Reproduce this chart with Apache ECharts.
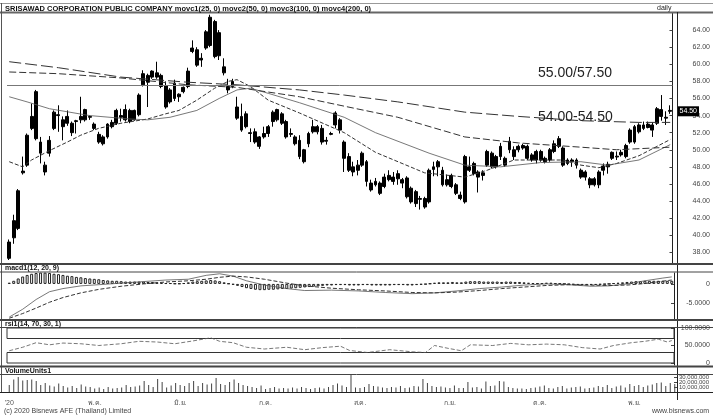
<!DOCTYPE html>
<html><head><meta charset="utf-8">
<script src="https://cdn.jsdelivr.net/npm/echarts@6/dist/echarts.min.js"></script>
<style>html,body{margin:0;padding:0;background:#fff}#c{width:713px;height:417px}</style>
</head><body><div id="c"></div>
<script>
// ---------- data ----------
const title = 'SRISAWAD CORPORATION PUBLIC COMPANY movc1(25, 0) movc2(50, 0) movc3(100, 0) movc4(200, 0)';
// [open, close, low, high]
const ohlc = [
[37.3,39.2,37.1,39.5],[39.7,41.7,39.0,42.4],[40.8,45.2,40.6,45.4],[47.3,47.5,47.1,49.2],[48.2,51.7,48.0,51.9],
[52.5,53.9,52.3,55.4],[51.3,56.8,51.1,57.0],[50.9,49.6,48.4,51.5],[48.2,47.4,47.0,48.6],[49.6,51.1,49.2,51.6],
[52.5,54.4,52.3,54.6],[54.0,54.1,52.1,55.2],[53.5,52.7,51.1,53.9],[53.1,53.9,52.8,54.6],[53.1,52.0,51.6,53.3],
[53.3,53.4,51.9,53.5],[53.5,53.9,53.1,56.2],[53.5,54.7,53.3,54.8],[53.9,53.8,53.5,54.0],[53.0,52.5,52.3,53.2],
[51.8,50.9,50.7,52.1],[51.5,50.7,50.5,51.7],[51.5,53.0,51.3,53.1],[52.7,53.2,52.5,53.5],[53.1,54.6,52.9,54.8],
[54.0,53.8,53.3,54.8],[53.5,54.7,53.3,55.3],[54.6,53.3,53.1,54.8],[53.5,54.6,53.4,54.7],[54.1,56.4,53.9,56.6],
[57.6,58.9,57.4,59.3],[58.7,57.9,55.0,58.9],[58.5,59.2,58.3,59.3],[59.0,58.5,58.3,60.3],[58.7,57.4,57.2,58.9],
[57.5,55.0,54.8,58.0],[55.6,57.0,55.4,57.2],[57.8,56.0,55.7,58.2],[56.2,56.5,55.6,56.6],[56.8,57.3,56.6,57.4],
[57.4,59.2,57.2,59.6],[61.5,61.9,61.3,62.8],[61.7,59.9,59.7,62.0],[60.5,60.7,59.7,61.3],[61.9,63.8,61.7,64.0],
[62.2,65.5,62.0,65.8],[65.0,60.9,60.7,65.2],[63.7,61.0,60.5,64.0],[59.7,59.0,58.7,60.7],[57.4,57.0,56.6,58.3],
[57.4,58.0,57.2,58.3],[55.0,53.7,53.5,56.2],[53.9,52.3,52.1,55.4],[52.7,54.2,52.5,54.5],[51.9,52.0,50.9,52.5],
[52.1,50.9,50.7,52.5],[51.5,50.4,50.1,51.6],[51.5,51.9,51.3,52.7],[51.9,52.7,51.5,52.9],[53.3,54.4,52.7,54.6],
[53.5,54.7,53.3,54.8],[54.2,53.1,52.9,54.4],[53.3,51.5,51.3,53.5],[51.9,51.8,51.5,52.5],[51.5,50.7,50.5,51.7],
[51.1,49.2,48.9,51.7],[50.0,48.6,48.4,50.1],[50.7,51.9,50.3,52.1],[52.1,52.7,51.9,53.5],[52.7,52.1,51.8,52.9],
[52.5,50.9,50.6,52.9],[51.0,51.1,50.6,51.5],[51.8,51.9,51.7,52.1],[52.9,54.3,52.5,54.5],[53.5,52.3,51.9,53.7],
[50.9,49.0,47.4,51.1],[49.2,47.6,47.4,49.6],[48.0,47.4,46.9,48.6],[47.6,48.2,47.0,48.8],[48.2,49.6,48.0,49.8],
[48.6,46.3,45.7,48.8],[46.1,45.3,45.1,46.5],[45.9,46.3,45.7,46.7],[46.1,44.9,44.7,46.3],[45.7,46.8,45.5,47.2],
[46.5,47.0,46.3,47.6],[46.8,46.3,45.9,47.4],[46.6,47.2,45.9,47.6],[46.5,46.1,45.5,46.7],[46.7,44.5,44.3,46.9],
[45.5,43.9,43.7,45.7],[45.1,43.7,43.3,45.3],[44.2,44.3,43.0,44.6],[43.3,44.3,43.1,44.5],[43.9,47.6,43.7,47.8],
[47.7,48.0,46.9,48.6],[48.0,48.6,46.9,48.8],[47.6,45.9,45.7,48.0],[46.5,45.9,45.7,47.1],[45.7,47.0,45.5,47.2],
[45.9,44.9,44.7,46.1],[44.7,44.3,44.1,45.1],[43.9,49.2,43.7,49.4],[47.6,48.0,47.4,49.2],[48.4,47.2,47.0,48.6],
[47.4,46.8,45.0,47.6],[47.0,47.3,46.4,47.6],[48.2,49.8,48.0,50.0],[49.6,48.0,47.8,49.8],[48.0,49.2,47.8,49.4],
[49.2,50.4,48.8,50.8],[49.0,48.2,48.0,49.2],[50.0,51.0,49.6,51.5],[50.0,49.2,48.8,50.4],[50.0,50.4,49.7,50.6],
[50.2,50.5,50.0,50.7],[50.4,49.0,48.8,50.6],[49.4,48.8,48.6,49.6],[48.8,49.8,48.4,50.0],[49.8,48.8,48.6,50.0],
[49.0,48.6,48.4,49.2],[48.8,50.0,48.6,50.2],[49.8,50.7,49.6,51.1],[50.4,51.3,50.2,51.6],[50.2,48.2,48.0,50.4],
[48.4,48.8,48.2,49.0],[48.6,48.8,48.0,49.0],[48.8,48.2,47.8,49.0],[47.6,46.8,46.6,47.8],[47.4,46.8,46.4,47.6],
[46.6,45.9,45.5,46.8],[46.6,45.9,45.7,46.8],[45.9,47.4,45.5,47.6],[47.6,48.1,47.0,48.4],[48.0,48.3,47.2,48.6],
[49.0,49.7,48.8,49.8],[49.15,49.25,48.8,49.8],[49.4,49.7,49.2,50.0],[49.2,50.5,49.0,50.7],[50.9,52.3,50.7,52.5],
[50.9,52.7,50.7,52.9],[52.1,52.9,51.9,53.1],[52.5,52.9,52.3,53.3],[52.6,53.0,52.5,53.3],[52.9,52.3,51.5,53.2],
[53.1,54.8,52.9,55.0],[54.7,53.9,53.4,56.4],[53.7,53.8,52.9,54.5],[54.6,54.5,54.2,55.2]
];
// moving averages read at sample candles: [candle index, value]
const movc1 = [[0,48.6],[3,48.0],[5,48.8],[9,49.9],[13,50.9],[16,51.7],[20,52.5],[25,53.1],[31,53.6],[35,54.2],[38,54.6],[42,55.8],[46,57.2],[49,58.0],[51,58.2],[54,57.4],[58,55.8],[65,54.3],[75,52.0],[82,49.7],[93,47.3],[102,46.8],[107,47.6],[113,48.8],[124,48.8],[128,48.2],[132,47.9],[136,48.4],[141,49.3],[148,51.2]];
const movc2 = [[0,56.2],[4,55.6],[9,54.8],[18,54.0],[27,53.6],[31,53.5],[36,53.8],[42,54.6],[47,56.0],[51,57.0],[54,57.2],[58,56.6],[65,55.5],[75,53.8],[82,52.0],[94,49.6],[102,48.2],[110,48.0],[119,48.5],[128,48.6],[134,48.2],[141,48.8],[148,50.6]];
const movc3 = [[0,59.1],[11,58.9],[25,58.4],[40,57.6],[51,57.3],[65,56.2],[75,55.1],[87,53.8],[102,51.5],[114,50.8],[128,50.3],[136,50.0],[148,50.3]];
const movc4 = [[0,60.3],[11,59.6],[25,58.5],[40,57.9],[51,57.6],[65,57.0],[75,56.4],[87,55.6],[102,54.4],[114,53.9],[128,53.4],[141,53.2],[148,53.2]];
const resistLevel = 57.5;
const noteUpper = '55.00/57.50';
const noteLower = '54.00-54.50';
const lastPrice = 54.50;

const macdHist = [
0.3,0.8,1.4,1.9,2.3,2.6,2.8,2.9,2.9,2.8,
2.6,2.5,2.3,2.1,2.0,1.8,1.7,1.5,1.4,1.3,
1.2,1.0,0.9,0.8,0.8,0.7,0.6,0.6,0.6,0.6,
0.6,0.5,0.5,0.4,0.3,0.2,0.2,0.1,0.1,0.2,
0.4,0.6,0.7,0.8,0.9,1.0,0.9,0.7,0.4,0.1,
-0.2,-0.5,-0.8,-1.1,-1.3,-1.5,-1.6,-1.6,-1.5,-1.5,
-1.4,-1.3,-1.3,-1.2,-1.1,-1.0,-0.9,-0.8,-0.7,-0.6,
-0.5,-0.4,-0.4,-0.3,-0.3,-0.3,-0.4,-0.4,-0.4,-0.3,
-0.3,-0.4,-0.4,-0.4,-0.4,-0.4,-0.3,-0.3,-0.3,-0.4,
-0.4,-0.3,-0.2,-0.1,0.1,0.3,0.4,0.4,0.4,0.5,
0.4,0.4,0.6,0.7,0.7,0.7,0.6,0.6,0.6,0.6,
0.5,0.6,0.6,0.5,0.5,0.4,0.3,0.2,0.2,0.2,
0.3,0.3,0.2,0.1,0.0,-0.1,-0.2,-0.3,-0.3,-0.3,
-0.3,-0.3,-0.2,-0.1,0.0,0.2,0.3,0.4,0.5,0.6,
0.7,0.7,0.8,0.8,0.8,0.8,0.8,0.8,0.8];
const macdLine = [[0,-8.5],[3,-6.5],[6,-4.0],[9,-2.0],[12,-1.2],[16,-0.5],[20,-0.2],[25,0.2],[30,0.6],[35,1.0],[40,1.2],[44,2.2],[47,2.6],[50,2.0],[53,0.8],[57,-0.3],[62,-1.2],[66,-1.7],[72,-1.6],[78,-1.8],[84,-2.2],[90,-2.5],[95,-2.3],[100,-1.8],[105,-1.2],[110,-0.8],[115,-0.3],[120,0.0],[125,-0.2],[130,-0.6],[134,-0.5],[138,0.0],[142,0.8],[146,1.5],[148,1.8]];
const signalLine = [[0,-8.8],[3,-7.6],[6,-6.2],[9,-4.7],[12,-3.5],[16,-2.3],[20,-1.4],[25,-0.6],[30,0.0],[35,0.5],[40,0.8],[44,1.2],[47,1.7],[50,2.0],[53,1.8],[57,1.2],[62,0.2],[66,-0.5],[72,-1.1],[78,-1.5],[84,-1.8],[90,-2.2],[95,-2.3],[100,-2.1],[105,-1.7],[110,-1.2],[115,-0.8],[120,-0.4],[125,-0.2],[130,-0.3],[134,-0.4],[138,-0.3],[142,0.1],[146,0.7],[148,1.0]];
const rsi = [[0,35],[3,45],[6,58],[9,52],[12,57],[16,55],[20,50],[25,55],[29,62],[33,60],[37,55],[41,63],[45,72],[47,62],[50,58],[53,45],[57,40],[62,45],[66,38],[70,44],[74,48],[76,36],[80,30],[85,38],[90,32],[93,30],[95,50],[98,42],[101,35],[103,52],[108,50],[112,56],[116,52],[120,54],[124,52],[128,44],[132,40],[135,50],[139,58],[142,62],[145,68],[147,60],[148,64]];
// volume in millions of shares
const volume = [
14,25,30,23,24,25,22,14,18,13, 11,17,12,9,12,8,15,11,10,7, 9,6,10,7,8,9,14,10,11,13,
22,14,10,26,20,9,13,18,14,12, 18,22,12,18,15,17,28,16,14,20, 25,18,14,12,10,8,13,6,8,10,
7,8,7,9,7,10,8,6,8,9, 7,10,14,17,13,10,34,9,8,10, 16,12,11,9,8,10,9,12,8,9,
12,11,26,18,12,10,11,9,8,13, 8,8,20,9,10,7,21,12,13,22, 21,10,8,7,7,6,8,9,11,13,
8,7,10,12,7,9,10,11,7,8, 9,12,10,14,8,11,13,9,16,12, 14,10,13,15,18,19,12,18,16];

const priceTicks = [38,40,42,44,46,48,50,52,54,56,58,60,62,64];
const macdTicks = [0,-5];
const rsiTicks = [0,50,100];
const rsiBands = [[70,100],[0,30]];
const volTicks = [10,20,30];
const monthIdx = [0,19,38,57,78,98,118,139];
const monthText = ["'20",'พ.ค.','มิ.ย.','ก.ค.','ส.ค.','ก.ย.','ต.ค.','พ.ย.'];
const headers = ['macd1(12, 20, 9)','rsi1(14, 70, 30, 1)','VolumeUnits1'];

// ---------- chart ----------
const cats = ohlc.map((d,i)=>i);
const FONT = 'Liberation Sans, Arial, sans-serif';
const L = 7, R = 36;
const grids = [
  {left:L,right:R,top:13,height:250},
  {left:L,right:R,top:273,height:46},
  {left:L,right:R,top:328,height:37},
  {left:L,right:R,top:375,height:17}
];
function xa(i, showLabels){
  return {type:'category',gridIndex:i,data:cats,boundaryGap:true,
    axisLine:{show:showLabels,lineStyle:{color:'#222'}},axisTick:{show:false},splitLine:{show:false},
    axisLabel:showLabels?{show:true,interval:0,margin:8,fontSize:7,color:'#555',fontFamily:FONT,
      formatter:(v,idx)=>{const k=monthIdx.indexOf(idx);return k>=0?monthText[k]:'';}}:{show:false}};
}
function ya(i,min,max,ticks,lab){
  return {type:'value',gridIndex:i,position:'right',min:min,max:max,scale:true,
    axisLine:{show:true,lineStyle:{color:'#222'}},
    axisTick:{show:true,inside:true,length:3,customValues:ticks,lineStyle:{color:'#444'}},
    splitLine:{show:false},
    axisLabel:Object.assign({show:true,customValues:ticks,fontSize:7,color:'#444',fontFamily:FONT},lab)};
}
const option = {
  animation:false,
  backgroundColor:'#fff',
  grid:grids,
  xAxis:[xa(0,false),xa(1,false),xa(2,false),xa(3,true)],
  yAxis:[
    ya(0,36.75,66.0,priceTicks,{margin:20,align:'left',formatter:v=>v.toFixed(2)}),
    ya(1,-9,2.8,macdTicks,{margin:36,align:'right',formatter:v=>v===0?'0':v.toFixed(4)}),
    ya(2,-5.7,100,rsiTicks,{margin:36,align:'right',formatter:v=>v===0?'0':v.toFixed(4)}),
    ya(3,0,34,volTicks,{show:false})
  ],
  series:[
    {type:'candlestick',xAxisIndex:0,yAxisIndex:0,data:ohlc.map(d=>[d[0],d[1],d[2],d[3]]),barWidth:3.4,
      itemStyle:{color:'#000',color0:'#000',borderColor:'#000',borderColor0:'#000',borderWidth:1},
      markLine:{silent:true,symbol:'none',label:{show:false},lineStyle:{color:'#777',width:1,type:'solid'},
        data:[{yAxis:resistLevel}]}},
    {type:'line',xAxisIndex:0,yAxisIndex:0,data:movc1,showSymbol:false,lineStyle:{color:'#333',width:1,type:[4,2]}},
    {type:'line',xAxisIndex:0,yAxisIndex:0,data:movc2,showSymbol:false,lineStyle:{color:'#555',width:0.8,type:'solid'}},
    {type:'line',xAxisIndex:0,yAxisIndex:0,data:movc3,showSymbol:false,lineStyle:{color:'#333',width:1,type:[7,3]}},
    {type:'line',xAxisIndex:0,yAxisIndex:0,data:movc4,showSymbol:false,lineStyle:{color:'#333',width:1,type:[12,4]}},
    {type:'bar',xAxisIndex:1,yAxisIndex:1,data:macdHist,barWidth:3,
      itemStyle:{color:'#fff',borderColor:'#222',borderWidth:1}},
    {type:'line',xAxisIndex:1,yAxisIndex:1,data:macdLine,showSymbol:false,lineStyle:{color:'#555',width:0.8}},
    {type:'line',xAxisIndex:1,yAxisIndex:1,data:signalLine,showSymbol:false,lineStyle:{color:'#333',width:1,type:[4,2]}},
    {type:'line',xAxisIndex:2,yAxisIndex:2,data:rsi,showSymbol:false,lineStyle:{color:'#555',width:0.8,type:[4,2]},
      markArea:{silent:true,itemStyle:{color:'rgba(0,0,0,0)',borderColor:'#333',borderWidth:1},
        data:rsiBands.map(b=>[{yAxis:b[0]},{yAxis:b[1]}])}},
    {type:'bar',xAxisIndex:3,yAxisIndex:3,data:volume,barWidth:1,itemStyle:{color:'#444'}}
  ]
};
const chart = echarts.init(document.getElementById('c'),null,{renderer:'canvas'});
chart.setOption(option);

function hline(y,x1,x2,w,c){return {type:'line',silent:true,z:100,shape:{x1:x1,y1:y,x2:x2,y2:y},style:{stroke:c,lineWidth:w}};}
function vline(x,y1,y2,w,c){return {type:'line',silent:true,z:100,shape:{x1:x,y1:y1,x2:x,y2:y2},style:{stroke:c,lineWidth:w}};}
function txt(s,x,y,size,opt){return {type:'text',silent:true,z:110,x:x,y:y,style:Object.assign({text:s,fontSize:size,fontFamily:FONT,fill:'#111'},opt||{})};}
const py = chart.convertToPixel({yAxisIndex:0},lastPrice);
const axX = 713 - R;
const g = [
  hline(3.5,0,713,1,'#999'),
  hline(12.5,0,713,2,'#666'),
  vline(1.5,3,392,1,'#555'),
  vline(axX+0.5,12,400,1,'#222'),
  hline(264,0,713,2,'#444'), hline(272,0,713,1,'#444'),
  hline(320,0,713,2,'#444'), hline(327.5,0,713,1,'#444'),
  hline(366.5,0,713,2,'#444'), hline(374.5,0,713,1,'#444'),
  hline(392.5,0,713,1,'#222'),
  txt(title,5,4.5,7.5,{fontWeight:'bold'}),
  txt('daily',657,4.5,7,{fill:'#222'}),
  txt(headers[0],5,265,7,{fontWeight:'bold'}),
  txt(headers[1],5,321,7,{fontWeight:'bold'}),
  txt(headers[2],5,367.5,7,{fontWeight:'bold'}),
  txt(noteUpper,538,66,14,{fill:'#222'}),
  txt(noteLower,538,110,14,{fill:'#222'}),
  {type:'rect',silent:true,z:105,shape:{x:axX+1,y:py-5,width:21,height:10},style:{fill:'#000'}},
  txt(lastPrice.toFixed(2),axX+2.5,py-3.5,7,{fill:'#fff'}),
  txt('(c) 2020 Bisnews AFE (Thailand) Limited',4,408,7,{fill:'#444'}),
  txt('www.bisnews.com',652,408,7,{fill:'#444'})
];
volTicks.forEach(v=>{
  const y = chart.convertToPixel({yAxisIndex:3},v);
  g.push(txt((v*1e6).toLocaleString('en-US'),axX+2,y-3,6,{fill:'#444'}));
});
chart.setOption({graphic:g});
</script></body></html>
